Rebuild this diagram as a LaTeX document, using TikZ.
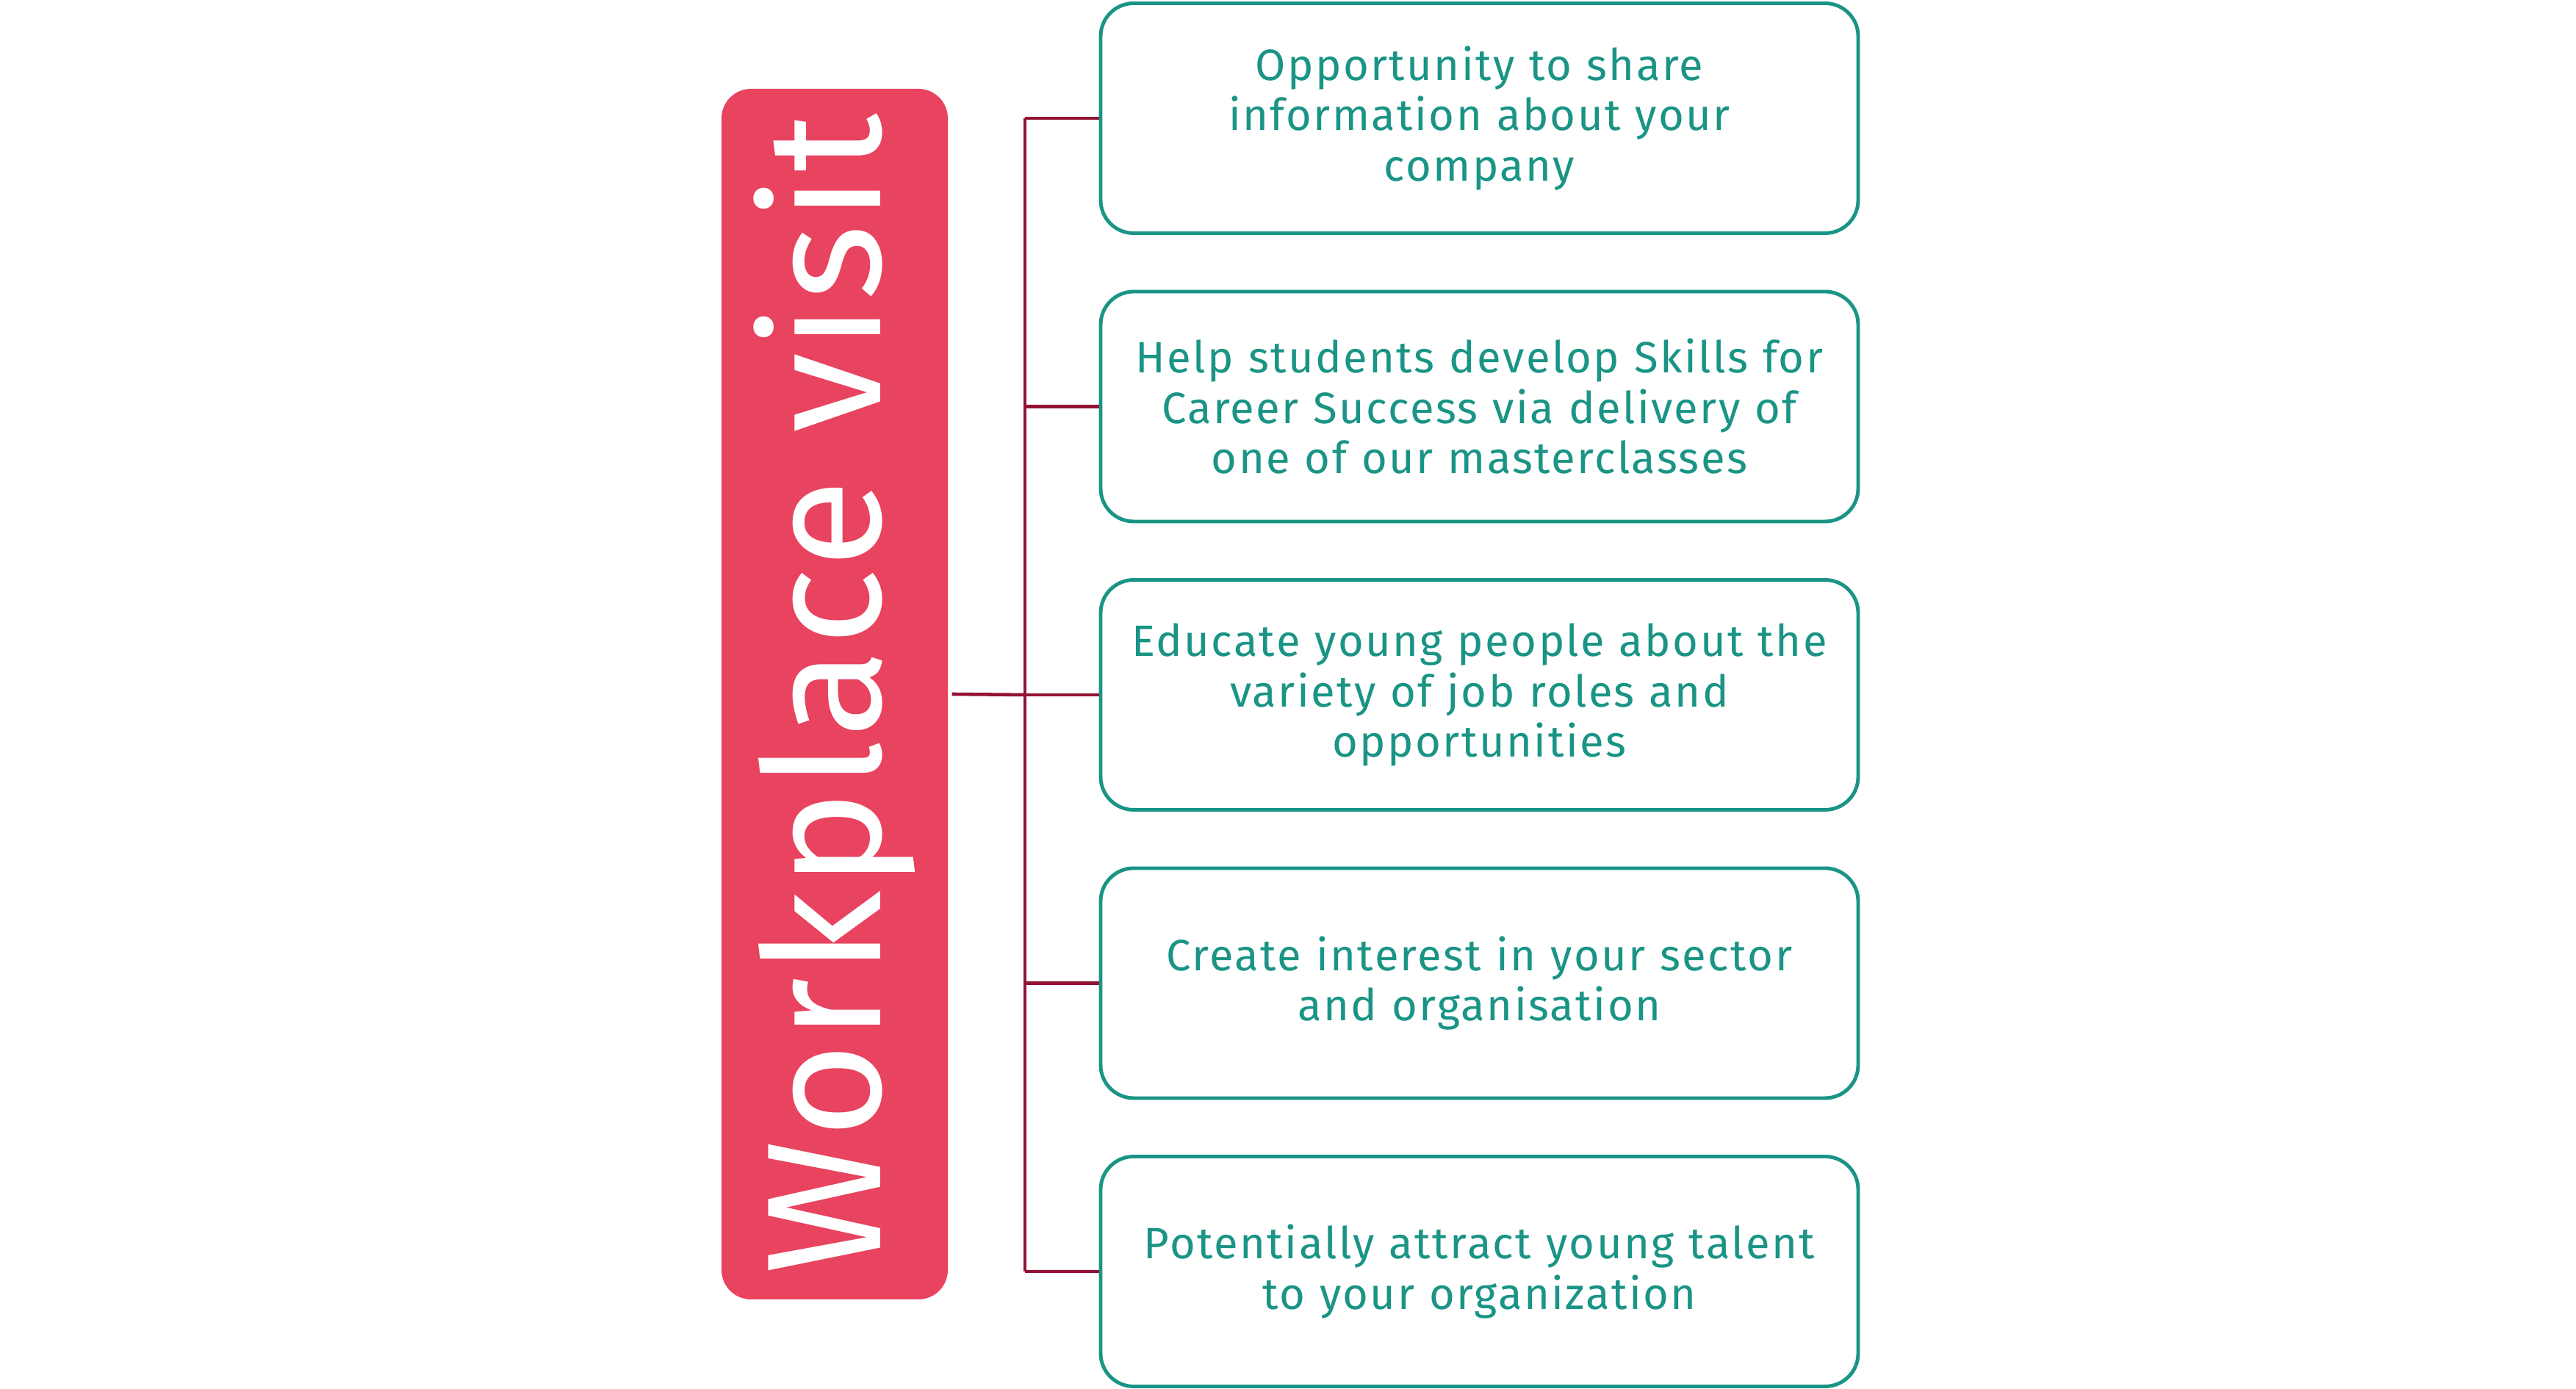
\documentclass[tikz,border=0pt]{standalone}
\usepackage{fontspec}
\setmainfont{Fira Sans}
\usetikzlibrary{calc}

\definecolor{hubred}{HTML}{E8435F}
\definecolor{spinered}{HTML}{931236}
\definecolor{itemteal}{HTML}{1A9485}

\begin{document}
\begin{tikzpicture}[
  hub/.style={fill=hubred, rounded corners=0.4cm, minimum width=3.08cm, minimum height=16.48cm, inner sep=0pt, text=white},
  item/.style={draw=itemteal, line width=1.4pt, rounded corners=0.45cm, minimum width=10.31cm, minimum height=3.13cm, inner sep=0.05cm, text width=10.15cm, align=center, text=itemteal, font=\fontsize{17}{19.5}\selectfont\addfontfeatures{LetterSpace=4}},
  branch/.style={draw=spinered, line width=1.3pt}
]
\useasboundingbox (0,0) rectangle (35.06,18.91);

% Main box
\node[hub] (hub) at (11.36,9.46) {\rotatebox{90}{\fontsize{63}{63}\selectfont\addfontfeatures{LetterSpace=2}Workplace visit}};

% Boxes on the right
\node[item] (item1) at (20.135,17.30) {Opportunity to share\\ information about your\\ company};
\node[item] (item2) at (20.135,13.375) {Help students develop Skills for\\ Career Success via delivery of\\ one of our masterclasses};
\node[item] (item3) at (20.135,9.45) {Educate young people about the\\ variety of job roles and\\ opportunities};
\node[item] (item4) at (20.135,5.525) {Create interest in your sector\\ and organisation};
\node[item] (item5) at (20.135,1.60) {Potentially attract young talent\\ to your organization};

% Spine
\coordinate (spine) at (13.95,9.45);
\draw[branch] ([xshift=0.05cm]hub.east) -- (spine);
\draw[branch] (item1.west -| spine) -- (item5.west -| spine);
\foreach \i in {1,...,5}
  \draw[branch] (item\i.west -| spine) -- (item\i.west);

\end{tikzpicture}
\end{document}
